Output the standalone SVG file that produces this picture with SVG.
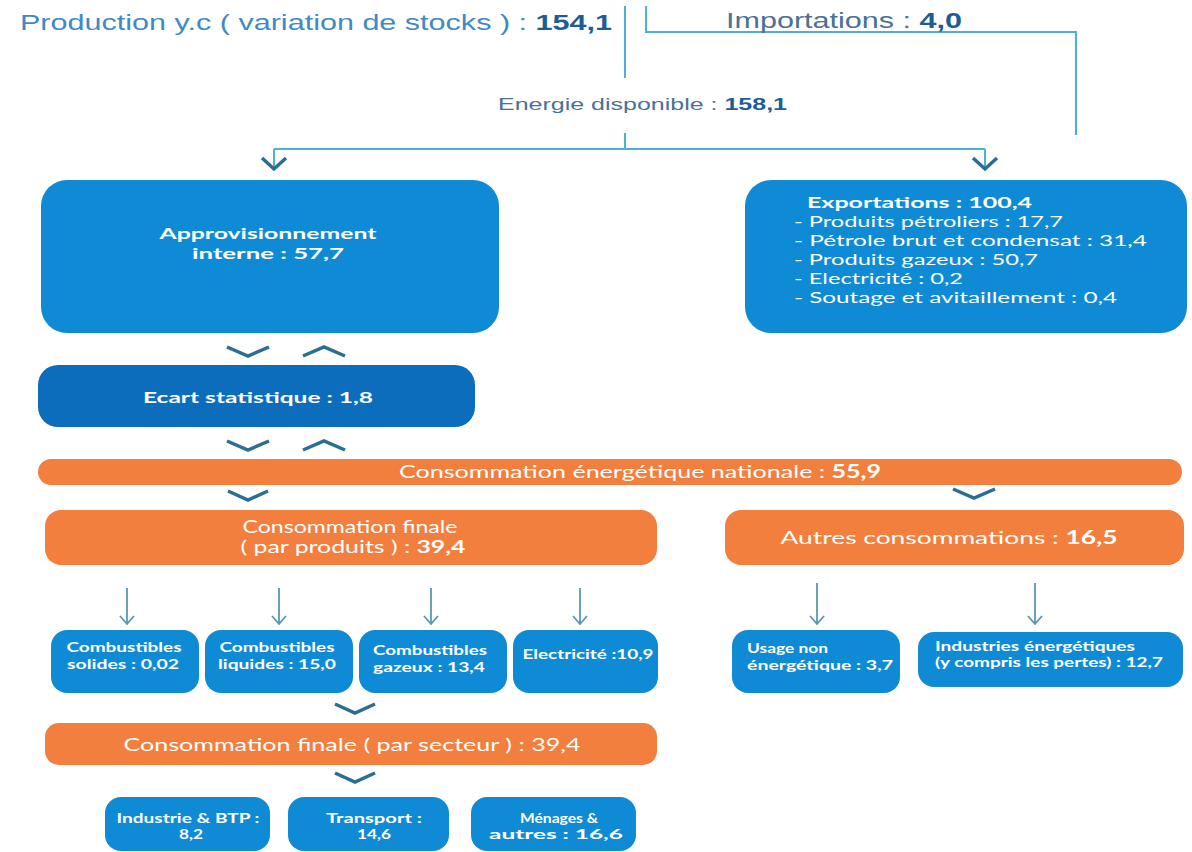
<svg xmlns="http://www.w3.org/2000/svg" width="1192" height="852" viewBox="0 0 1192 852">
<defs>
<style>
.bg{fill:#ffffff}
.blue{fill:#0f8bd6}
.dblue{fill:#0c6dbd}
.orange{fill:#f37f3f}
.line{fill:none;stroke:#4cb1d8;stroke-width:2}
.chev{fill:none;stroke:#2a6f91;stroke-width:3.5;stroke-linejoin:miter}
.thin{fill:none;stroke:#5b97b2;stroke-width:1.8}
.top{font-family:"Liberation Sans",Arial,sans-serif;fill:#3f8ac4}
.grey{fill:#4a7196}
.topb{font-weight:bold;fill:#1d5d94}
.w{font-family:Lato,"Open Sans",sans-serif;fill:#ffffff;text-anchor:middle}
.wl{font-family:Lato,"Open Sans",sans-serif;fill:#ffffff}
.b{font-weight:bold}
</style>
<marker id="ah" viewBox="0 0 10 16" refX="9" refY="8" markerWidth="10" markerHeight="16" markerUnits="userSpaceOnUse" orient="auto">
<path d="M1,1 L9,8 L1,15" fill="none" stroke="#5b97b2" stroke-width="1.8"/>
</marker>
</defs>
<rect class="bg" x="0" y="0" width="1192" height="852"/>

<g id="connectors">
<path class="line" d="M625,6 V78"/>
<path class="line" d="M646,6 V32 H1076 V135"/>
<path class="line" d="M625,133 V149"/>
<path class="line" d="M274,149 H985"/>
<path class="line" d="M274,149 V168"/>
<path class="line" d="M985,149 V168"/>
<path class="chev" d="M262,158 L274,169 L286,158"/>
<path class="chev" d="M973,158 L985,169 L997,158"/>
<path class="chev" d="M227,347 L248,356 L269,347"/>
<path class="chev" d="M303,356 L324,347 L345,356"/>
<path class="chev" d="M227,441 L248,450 L269,441"/>
<path class="chev" d="M303,450 L324,441 L345,450"/>
<path class="chev" d="M228,491 L248,500 L268,491"/>
<path class="chev" d="M953,489 L974,498 L995,489"/>
<path class="thin" d="M127,588 V624" marker-end="url(#ah)"/>
<path class="thin" d="M279,588 V624" marker-end="url(#ah)"/>
<path class="thin" d="M431,588 V624" marker-end="url(#ah)"/>
<path class="thin" d="M580,588 V624" marker-end="url(#ah)"/>
<path class="thin" d="M817,583 V624" marker-end="url(#ah)"/>
<path class="thin" d="M1035,583 V624" marker-end="url(#ah)"/>
<path class="chev" d="M335,704 L355,713 L375,704"/>
<path class="chev" d="M335,773 L355,782 L375,773"/>
</g>

<g id="production">
<text class="top" x="20" y="30" font-size="22" textLength="592" lengthAdjust="spacingAndGlyphs">Production y.c ( variation de stocks ) : <tspan class="topb">154,1</tspan></text>
</g>
<g id="importations">
<text class="top grey" x="726" y="28" font-size="22" textLength="236" lengthAdjust="spacingAndGlyphs">Importations : <tspan class="topb">4,0</tspan></text>
</g>
<g id="energie">
<text class="top grey" x="498" y="110" font-size="17" textLength="289" lengthAdjust="spacingAndGlyphs">Energie disponible : <tspan class="topb">158,1</tspan></text>
</g>

<g id="approvisionnement">
<rect class="blue" x="41" y="180" width="458" height="153" rx="26"/>
<text class="w b" x="268" y="239" font-size="16" textLength="217" lengthAdjust="spacingAndGlyphs">Approvisionnement</text>
<text class="w b" x="268" y="259" font-size="16" textLength="152" lengthAdjust="spacingAndGlyphs">interne : 57,7</text>
</g>

<g id="exportations">
<rect class="blue" x="745" y="180" width="442" height="153" rx="26"/>
<text class="wl b" x="807" y="208" font-size="15.5" textLength="225" lengthAdjust="spacingAndGlyphs">Exportations : 100,4</text>
<text class="wl" x="794" y="227" font-size="15.5" textLength="269" lengthAdjust="spacingAndGlyphs">- Produits pétroliers : 17,7</text>
<text class="wl" x="794" y="246" font-size="15.5" textLength="353" lengthAdjust="spacingAndGlyphs">- Pétrole brut et condensat : 31,4</text>
<text class="wl" x="794" y="265" font-size="15.5" textLength="244" lengthAdjust="spacingAndGlyphs">- Produits gazeux : 50,7</text>
<text class="wl" x="794" y="284" font-size="15.5" textLength="169" lengthAdjust="spacingAndGlyphs">- Electricité : 0,2</text>
<text class="wl" x="794" y="303" font-size="15.5" textLength="323" lengthAdjust="spacingAndGlyphs">- Soutage et avitaillement : 0,4</text>
</g>

<g id="ecart">
<rect class="dblue" x="38" y="365" width="437" height="62" rx="20"/>
<text class="w b" x="258" y="403" font-size="16" textLength="230" lengthAdjust="spacingAndGlyphs">Ecart statistique : 1,8</text>
</g>

<g id="nationale">
<rect class="orange" x="38" y="459" width="1144" height="26" rx="13"/>
<text class="w" x="640" y="478" font-size="18" textLength="482" lengthAdjust="spacingAndGlyphs">Consommation énergétique nationale : <tspan class="b">55,9</tspan></text>
</g>

<g id="finale-produits">
<rect class="orange" x="45" y="510" width="612" height="55" rx="16"/>
<text class="w" x="350" y="533" font-size="16.5" textLength="215" lengthAdjust="spacingAndGlyphs">Consommation finale</text>
<text class="w" x="353" y="553" font-size="16.5" textLength="225" lengthAdjust="spacingAndGlyphs">( par produits ) : <tspan class="b">39,4</tspan></text>
</g>

<g id="autres">
<rect class="orange" x="725" y="510" width="459" height="55" rx="16"/>
<text class="w" x="949" y="544" font-size="18" textLength="337" lengthAdjust="spacingAndGlyphs">Autres consommations : <tspan class="b">16,5</tspan></text>
</g>

<g id="solides">
<rect class="blue" x="51" y="630" width="148" height="63" rx="16"/>
<text class="w b" x="124" y="652" font-size="13.5" textLength="115" lengthAdjust="spacingAndGlyphs">Combustibles</text>
<text class="w b" x="123" y="669" font-size="13.5" textLength="112" lengthAdjust="spacingAndGlyphs">solides : 0,02</text>
</g>
<g id="liquides">
<rect class="blue" x="205" y="630" width="148" height="63" rx="16"/>
<text class="w b" x="277" y="652" font-size="13.5" textLength="115" lengthAdjust="spacingAndGlyphs">Combustibles</text>
<text class="w b" x="277" y="669" font-size="13.5" textLength="118" lengthAdjust="spacingAndGlyphs">liquides : 15,0</text>
</g>
<g id="gazeux">
<rect class="blue" x="359" y="630" width="148" height="63" rx="16"/>
<text class="w b" x="430" y="655" font-size="13.5" textLength="114" lengthAdjust="spacingAndGlyphs">Combustibles</text>
<text class="w b" x="429" y="672" font-size="13.5" textLength="112" lengthAdjust="spacingAndGlyphs">gazeux : 13,4</text>
</g>
<g id="electricite">
<rect class="blue" x="513" y="630" width="145" height="63" rx="16"/>
<text class="w b" x="588" y="659" font-size="13.5" textLength="131" lengthAdjust="spacingAndGlyphs">Electricité :10,9</text>
</g>

<g id="usage">
<rect class="blue" x="732" y="630" width="168" height="63" rx="16"/>
<text class="wl b" x="747" y="653" font-size="13.5" textLength="81" lengthAdjust="spacingAndGlyphs">Usage non</text>
<text class="wl b" x="747" y="670" font-size="13.5" textLength="146" lengthAdjust="spacingAndGlyphs">énergétique : 3,7</text>
</g>
<g id="industries">
<rect class="blue" x="918" y="632" width="265" height="55" rx="16"/>
<text class="wl b" x="935" y="651" font-size="13" textLength="200" lengthAdjust="spacingAndGlyphs">Industries énergétiques</text>
<text class="wl b" x="935" y="667" font-size="13" textLength="228" lengthAdjust="spacingAndGlyphs">(y compris les pertes) : 12,7</text>
</g>

<g id="finale-secteur">
<rect class="orange" x="45" y="723" width="612" height="42" rx="14"/>
<text class="w" x="352" y="751" font-size="18" textLength="457" lengthAdjust="spacingAndGlyphs">Consommation finale  ( par secteur ) : 39,4</text>
</g>

<g id="industrie">
<rect class="blue" x="105" y="797" width="165" height="54" rx="16"/>
<text class="w b" x="188" y="823" font-size="13" textLength="143" lengthAdjust="spacingAndGlyphs">Industrie &amp; BTP :</text>
<text class="w b" x="191" y="839" font-size="13" textLength="24" lengthAdjust="spacingAndGlyphs">8,2</text>
</g>
<g id="transport">
<rect class="blue" x="288" y="797" width="161" height="54" rx="16"/>
<text class="w b" x="374" y="823" font-size="13" textLength="96" lengthAdjust="spacingAndGlyphs">Transport :</text>
<text class="w b" x="374" y="839" font-size="13" textLength="34" lengthAdjust="spacingAndGlyphs">14,6</text>
</g>
<g id="menages">
<rect class="blue" x="471" y="797" width="165" height="54" rx="16"/>
<text class="w b" x="559" y="823" font-size="13" textLength="78" lengthAdjust="spacingAndGlyphs">Ménages &amp;</text>
<text class="w b" x="556" y="839" font-size="13" textLength="134" lengthAdjust="spacingAndGlyphs">autres : 16,6</text>
</g>
</svg>
